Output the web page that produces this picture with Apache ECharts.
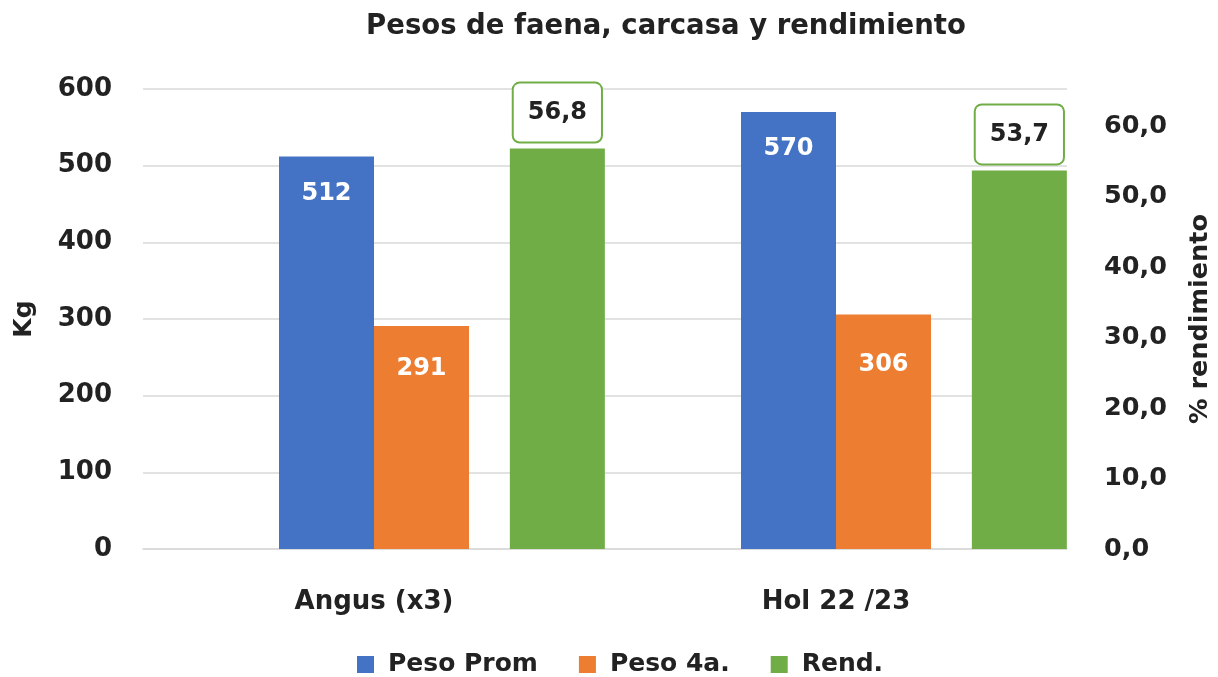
<!DOCTYPE html>
<html><head><meta charset="utf-8">
<script src="https://cdn.jsdelivr.net/npm/echarts@6/dist/echarts.min.js"></script>
<style>html,body{margin:0;padding:0;background:#fff}#c{width:1218px;height:677px}</style>
</head><body><div id="c"></div>
<script>
const categories = ['Angus (x3)', 'Hol 22 /23'];
const pesoProm = [512, 570];
const peso4a = [291, 306];
const rend = [56.8, 53.7];
const leftTicks = [0, 600, 100];
const rightTicks = [0, 65.25, 10];

const FONT = 'DejaVu Sans';
const TXT = '#222222';
const ORANGE_LABEL_DIST = [31, 38];
const chart = echarts.init(document.getElementById('c'));
const fmt1 = v => v.toFixed(1).replace('.', ',');
chart.setOption({
  animation: false,
  textStyle: {fontFamily: FONT},
  title: {
    text: 'Pesos de faena, carcasa y rendimiento',
    left: 666, top: 13, padding: 0, textAlign: 'center',
    textStyle: {fontFamily: FONT, fontSize: 27.5, fontWeight: 'bold', color: TXT}
  },
  legend: {
    top: 652, left: 357, padding: 0,
    itemWidth: 17, itemHeight: 17, itemGap: 41,
    icon: 'rect',
    textStyle: {fontFamily: FONT, fontSize: 25, fontWeight: 'bold', color: TXT, padding: [0,0,0,9]},
    data: ['Peso Prom', 'Peso 4a.', 'Rend.']
  },
  grid: {left: 143, right: 151, top: 89, bottom: 128, containLabel: false, outerBoundsMode: 'none'},
  xAxis: [{
    type: 'category', data: categories,
    axisLine: {lineStyle: {color: '#D9D9D9', width: 1.5}},
    axisTick: {show: false},
    axisLabel: {fontFamily: FONT, fontSize: 26, fontWeight: 'bold', color: TXT, margin: 40}
  }, {
    type: 'category', data: categories, show: false
  }],
  yAxis: [{
    type: 'value', min: leftTicks[0], max: leftTicks[1], interval: leftTicks[2],
    name: 'Kg', nameLocation: 'middle', nameGap: 106, nameRotate: 90,
    nameTextStyle: {fontFamily: FONT, fontSize: 25, fontWeight: 'bold', color: TXT},
    axisLine: {show: false}, axisTick: {show: false},
    splitLine: {lineStyle: {color: '#D9D9D9', width: 1.5}},
    axisLabel: {fontFamily: FONT, fontSize: 26, fontWeight: 'bold', color: TXT, margin: 31}
  }, {
    type: 'value', min: rightTicks[0], max: rightTicks[1], interval: rightTicks[2],
    position: 'right',
    name: '% rendimiento', nameLocation: 'middle', nameGap: 120, nameRotate: 90,
    nameTextStyle: {fontFamily: FONT, fontSize: 25.5, fontWeight: 'bold', color: TXT},
    axisLine: {show: false}, axisTick: {show: false}, splitLine: {show: false},
    axisLabel: {fontFamily: FONT, fontSize: 25.5, fontWeight: 'bold', color: TXT, margin: 37,
      showMaxLabel: false,
      formatter: v => (Math.abs(v % 10) < 1e-9 ? fmt1(v) : '')}
  }],
  series: [{
    name: 'Peso Prom', type: 'bar', xAxisIndex: 0, yAxisIndex: 0, data: pesoProm,
    barWidth: 95, barGap: '0%',
    itemStyle: {color: '#4472C4'},
    label: {show: true, position: 'insideTop', distance: 25, color: '#fff',
      fontFamily: FONT, fontSize: 24, fontWeight: 'bold'}
  }, {
    name: 'Peso 4a.', type: 'bar', xAxisIndex: 0, yAxisIndex: 0,
    data: peso4a.map((v, i) => ({value: v, label: {distance: ORANGE_LABEL_DIST[i]}})),
    barWidth: 95, barGap: '0%',
    itemStyle: {color: '#ED7D31'},
    label: {show: true, position: 'insideTop', color: '#fff',
      fontFamily: FONT, fontSize: 24, fontWeight: 'bold'}
  }, {
    name: '_spacer', type: 'bar', xAxisIndex: 1, yAxisIndex: 1, data: [null, null],
    barWidth: 95, barGap: '286%', silent: true, legendHoverLink: false,
    itemStyle: {color: 'rgba(0,0,0,0)'}
  }, {
    name: 'Rend.', type: 'bar', xAxisIndex: 1, yAxisIndex: 1, data: rend,
    barWidth: 95, barGap: '286%',
    itemStyle: {color: '#70AD47'},
    label: {show: true, position: 'top', distance: 7, color: TXT,
      fontFamily: FONT, fontSize: 24, fontWeight: 'bold',
      formatter: p => fmt1(p.value),
      backgroundColor: '#fff', borderColor: '#70AD47', borderWidth: 2, borderRadius: 6,
      padding: [17, 14, 17, 14]}
  }]
});
</script></body></html>
